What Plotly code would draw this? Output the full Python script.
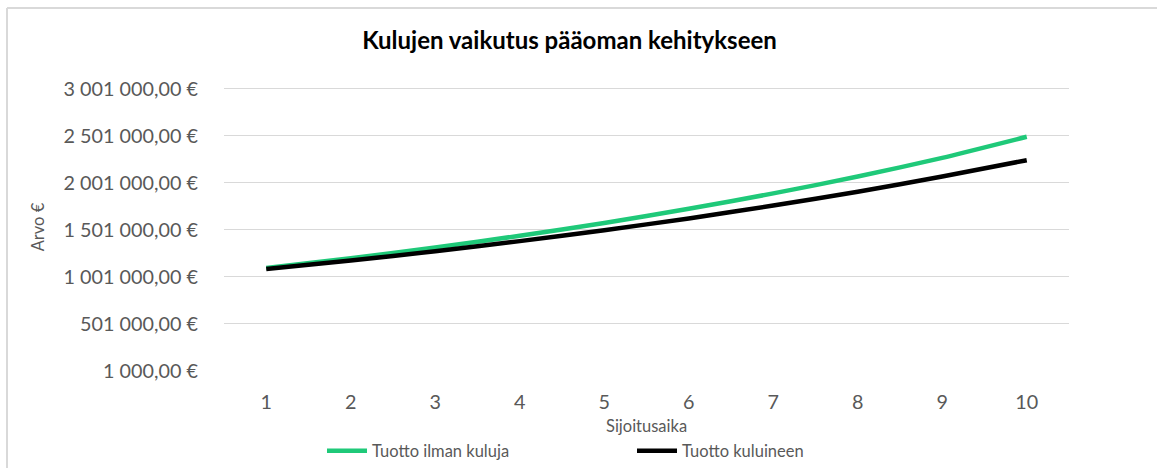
import plotly.graph_objects as go

years = [1, 2, 3, 4, 5, 6, 7, 8, 9, 10]
tuotto_ilman_kuluja = [1095000, 1199000, 1313000, 1438000, 1574000, 1724000, 1888000, 2067000, 2266000, 2490000]
tuotto_kuluineen = [1084000, 1175000, 1274000, 1381000, 1497000, 1622000, 1759000, 1906000, 2067000, 2241000]
y_ticks = [1000, 501000, 1001000, 1501000, 2001000, 2501000, 3001000]
y_tick_labels = ["1 000,00 €", "501 000,00 €", "1 001 000,00 €", "1 501 000,00 €",
                 "2 001 000,00 €", "2 501 000,00 €", "3 001 000,00 €"]

FONT = "Lato, 'Open Sans', sans-serif"
GRAY = "#595959"
W, H = 1157, 468
L, R, T, B = 224, 88, 83, 97
PW, PH = W - L - R, H - T - B

fig = go.Figure()
fig.add_trace(go.Scatter(x=years, y=tuotto_ilman_kuluja, mode="lines", name="Tuotto ilman kuluja",
                         line=dict(color="#1FC979", width=4.5, shape="spline", smoothing=0.6)))
fig.add_trace(go.Scatter(x=years, y=tuotto_kuluineen, mode="lines", name="Tuotto kuluineen",
                         line=dict(color="#000000", width=4.5, shape="spline", smoothing=0.6)))

def px_x(px):
    return (px - L) / PW

def px_y(py):
    return (H - B - py) / PH

# outer chart frame (top and left edges visible)
fig.add_shape(type="line", xref="paper", yref="paper", x0=px_x(7), x1=px_x(1160), y0=px_y(8), y1=px_y(8),
              line=dict(color="#d9d9d9", width=2))
fig.add_shape(type="line", xref="paper", yref="paper", x0=px_x(7), x1=px_x(7), y0=px_y(8), y1=px_y(470),
              line=dict(color="#d9d9d9", width=2))

# x-axis title
fig.add_annotation(text="Sijoitusaika", xref="paper", yref="paper", x=0.5, y=px_y(426),
                   xanchor="center", yanchor="middle", showarrow=False,
                   font=dict(family=FONT, size=16.5, color=GRAY))

fig.update_layout(
    width=W, height=H,
    margin=dict(l=L, r=R, t=T, b=B, autoexpand=False),
    paper_bgcolor="white", plot_bgcolor="white",
    font=dict(family=FONT, color=GRAY, size=16),
    title=dict(text="<b>Kulujen vaikutus pääoman kehitykseen</b>", x=(363 + 776) / 2 / W, xanchor="center",
               xref="container", y=1 - 41 / H, yanchor="middle", yref="container",
               font=dict(family=FONT, size=24, color="#000000")),
    xaxis=dict(range=[0.5, 10.5], tickmode="array", tickvals=years, ticktext=[str(v) for v in years],
               showgrid=False, zeroline=False, showline=False, ticks="", ticklabelstandoff=17,
               tickfont=dict(size=19.8, color=GRAY)),
    yaxis=dict(range=[1000, 3061000], tickmode="array", tickvals=y_ticks, ticktext=y_tick_labels,
               showgrid=True, gridcolor="#d9d9d9", gridwidth=1.3, zeroline=False, showline=False,
               ticks="", ticklabelstandoff=25, tickfont=dict(size=19.8, color=GRAY),
               title=dict(text="Arvo €", standoff=14, font=dict(size=16.5, color=GRAY))),
    showlegend=True,
    legend=dict(orientation="h", xref="container", yref="container", x=322 / W, xanchor="left",
                y=1 - 451 / H, yanchor="middle", entrywidth=255, entrywidthmode="pixels",
                font=dict(size=16.5, color=GRAY), bgcolor="rgba(0,0,0,0)", itemwidth=40,
                tracegroupgap=0),
)

fig.write_html("out.html", config={"displayModeBar": False},
               post_script="document.body.style.margin='0';")
